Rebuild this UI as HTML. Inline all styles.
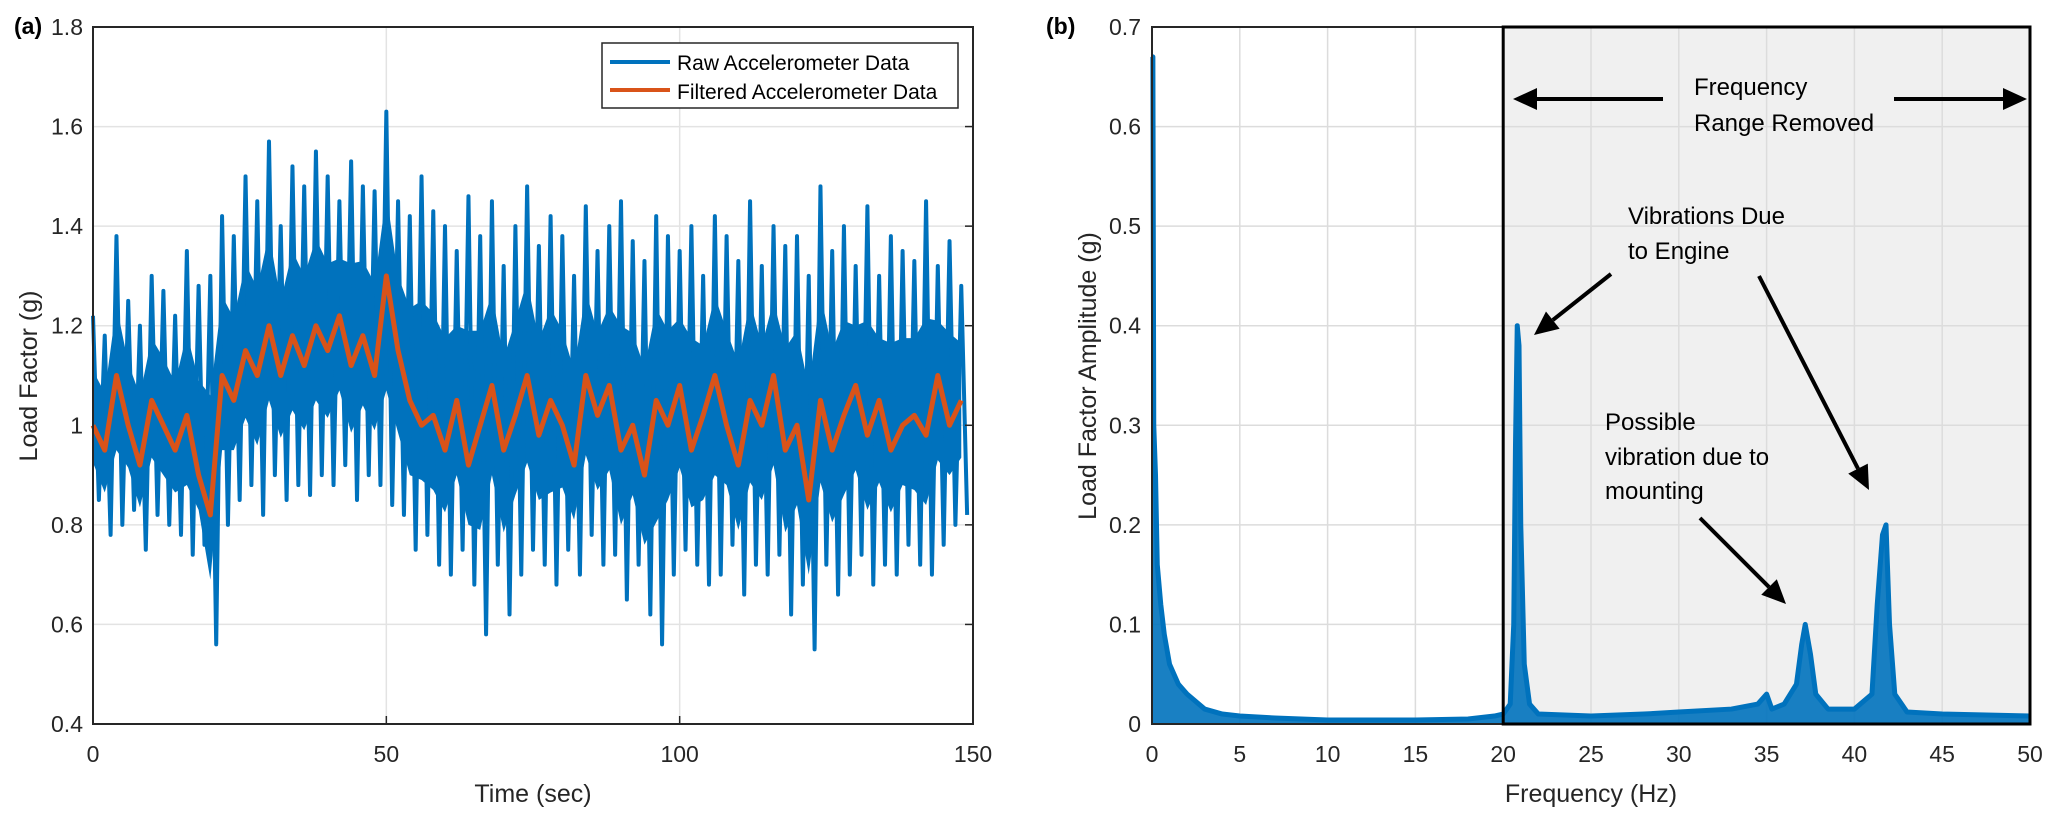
<!DOCTYPE html>
<html><head><meta charset="utf-8"><style>
html,body{margin:0;padding:0;background:#fff;}
svg{display:block;font-family:"Liberation Sans",Arial,sans-serif;}
</style></head><body>
<svg id="fig" width="2067" height="815" viewBox="0 0 2067 815">
<g id="gA"></g>
<g id="gB"></g>
</svg>
<script>
// ---- Chart (a) data ----
const timeStep = 2;
const rawHigh = [1.22,1.18,1.38,1.25,1.20,1.30,1.27,1.22,1.35,1.28,
1.30,1.42,1.38,1.50,1.45,1.57,1.40,1.52,1.48,1.55,
1.50,1.45,1.53,1.48,1.47,1.63,1.45,1.42,1.50,1.43,
1.40,1.35,1.46,1.38,1.45,1.32,1.40,1.48,1.36,1.42,
1.38,1.30,1.44,1.35,1.40,1.45,1.37,1.33,1.42,1.38,
1.35,1.40,1.30,1.42,1.38,1.33,1.45,1.32,1.40,1.36,
1.38,1.30,1.48,1.35,1.40,1.32,1.44,1.30,1.38,1.35,
1.33,1.45,1.32,1.37,1.28];
const rawLow = [0.85,0.78,0.80,0.83,0.75,0.82,0.80,0.78,0.74,0.76,
0.56,0.80,0.85,0.88,0.82,0.90,0.85,0.88,0.86,0.90,
0.88,0.92,0.85,0.90,0.88,0.84,0.82,0.75,0.78,0.72,
0.70,0.75,0.68,0.58,0.72,0.62,0.70,0.75,0.72,0.68,
0.75,0.70,0.78,0.72,0.74,0.65,0.72,0.62,0.56,0.70,
0.75,0.72,0.68,0.70,0.76,0.66,0.72,0.70,0.74,0.62,
0.68,0.55,0.72,0.66,0.70,0.74,0.68,0.72,0.70,0.76,
0.72,0.70,0.76,0.80,0.82];
const filtered = [1.00,0.95,1.10,1.00,0.92,1.05,1.00,0.95,1.02,0.90,
0.82,1.10,1.05,1.15,1.10,1.20,1.10,1.18,1.12,1.20,
1.15,1.22,1.12,1.18,1.10,1.30,1.15,1.05,1.00,1.02,
0.95,1.05,0.92,1.00,1.08,0.95,1.02,1.10,0.98,1.05,
1.00,0.92,1.10,1.02,1.08,0.95,1.00,0.90,1.05,1.00,
1.08,0.95,1.02,1.10,1.00,0.92,1.05,1.00,1.10,0.95,
1.00,0.85,1.05,0.95,1.02,1.08,0.98,1.05,0.95,1.00,
1.02,0.98,1.10,1.00,1.05];
const xTicksA = [0,50,100,150];
const yTicksA = [0.4,0.6,0.8,1,1.2,1.4,1.6,1.8];
// ---- Chart (b) data ----
const specFreq = [0,0.05,0.1,0.2,0.3,0.5,0.7,1,1.5,2,3,4,5,7,10,15,18,19.5,20,20.4,20.6,20.7,20.8,20.9,21.0,21.2,21.5,22,25,28,30,33,34.5,35,35.3,36,36.7,37,37.2,37.5,37.8,38.5,40,41,41.3,41.6,41.8,42,42.3,43,45,50];
const specAmp = [0.67,0.67,0.3,0.25,0.16,0.12,0.09,0.06,0.04,0.03,0.015,0.01,0.008,0.006,0.004,0.004,0.005,0.008,0.01,0.02,0.1,0.28,0.40,0.38,0.2,0.06,0.02,0.01,0.008,0.01,0.012,0.015,0.02,0.03,0.015,0.02,0.04,0.08,0.10,0.07,0.03,0.015,0.015,0.03,0.12,0.19,0.20,0.10,0.03,0.012,0.01,0.008];
const xTicksB = [0,5,10,15,20,25,30,35,40,45,50];
const yTicksB = [0,0.1,0.2,0.3,0.4,0.5,0.6,0.7];

const NS = "http://www.w3.org/2000/svg";
function mk(parent, tag, attrs, text){
  const e = document.createElementNS(NS, tag);
  for (const k in attrs) e.setAttribute(k, attrs[k]);
  if (text !== undefined) e.textContent = text;
  parent.appendChild(e);
  return e;
}

// ===== Chart A =====
const gA = document.getElementById('gA');
const A = {x0:93, x1:973, y0:724, y1:27};
const xA = t => A.x0 + (t-0)/150*(A.x1-A.x0);
const yA = v => A.y0 - (v-0.4)/1.4*(A.y0-A.y1);
xTicksA.forEach(t=>{
  const l = mk(gA,'line',{x1:xA(t),x2:xA(t),y1:A.y1,y2:A.y0,stroke:'#e3e3e3','stroke-width':1.5});
  
  
});
yTicksA.forEach(v=>{
  const l = mk(gA,'line',{x1:A.x0,x2:A.x1,y1:yA(v),y2:yA(v),stroke:'#e3e3e3','stroke-width':1.5});
  
  
});
// dense core band of raw data
let up = rawHigh.map((h,i)=>xA(i*timeStep)+','+yA((h+filtered[i])/2));
let dn = rawLow.map((l,i)=>xA(i*timeStep)+','+yA((l+filtered[i])/2)).reverse();
const core = mk(gA,'polygon',{points:up.concat(dn).join(' '),fill:'#0072BD'});


// raw zigzag spikes
let pts = [];
rawHigh.forEach((h,i)=>{
  const t = i*timeStep;
  pts.push(xA(t)+','+yA(h));
  pts.push(xA(t+timeStep/2)+','+yA(rawLow[i]));
});
const raw = mk(gA,'polyline',{points:pts.join(' '),fill:'none',stroke:'#0072BD','stroke-width':4,'stroke-linejoin':'round'});


let fp = filtered.map((v,i)=>xA(i*timeStep)+','+yA(v)).join(' ');
const filt = mk(gA,'polyline',{points:fp,fill:'none',stroke:'#D95319','stroke-width':5,'stroke-linejoin':'round'});


const boxA = mk(gA,'rect',{x:A.x0,y:A.y1,width:A.x1-A.x0,height:A.y0-A.y1,fill:'none',stroke:'#262626','stroke-width':2});


xTicksA.forEach(t=>{
  const e = mk(gA,'text',{x:xA(t),y:762,'text-anchor':'middle','font-size':23,fill:'#262626'},String(t));
  
  
  mk(gA,'line',{x1:xA(t),x2:xA(t),y1:A.y0,y2:A.y0-8,stroke:'#262626','stroke-width':1.5});
});
yTicksA.forEach(v=>{
  const e = mk(gA,'text',{x:83,y:yA(v)+8,'text-anchor':'end','font-size':23,fill:'#262626'},String(v));
  
  
  mk(gA,'line',{x1:A.x1,x2:A.x1-8,y1:yA(v),y2:yA(v),stroke:'#262626','stroke-width':1.5});
});
let e;
e = mk(gA,'text',{x:533,y:802,'text-anchor':'middle','font-size':25,fill:'#262626'},'Time (sec)');


e = mk(gA,'text',{x:0,y:0,'text-anchor':'middle','font-size':25,fill:'#262626',transform:'translate(37,376) rotate(-90)'},'Load Factor (g)');


e = mk(gA,'text',{x:14,y:34,'font-size':23,'font-weight':'bold',fill:'#000'},'(a)');


const leg = mk(gA,'g',{});


mk(leg,'rect',{x:602,y:43,width:356,height:65,fill:'#fff',stroke:'#262626','stroke-width':1.5});
mk(leg,'line',{x1:610,x2:670,y1:62,y2:62,stroke:'#0072BD','stroke-width':4});
mk(leg,'line',{x1:610,x2:670,y1:90,y2:90,stroke:'#D95319','stroke-width':4});
e = mk(leg,'text',{x:677,y:70,'font-size':21,fill:'#000'},'Raw Accelerometer Data');


e = mk(leg,'text',{x:677,y:99,'font-size':21,fill:'#000'},'Filtered Accelerometer Data');



// ===== Chart B =====
const gB = document.getElementById('gB');
const B = {x0:1152, x1:2030, y0:724, y1:27};
const xB = f => B.x0 + f/50*(B.x1-B.x0);
const yB = v => B.y0 - v/0.7*(B.y0-B.y1);
const shade = mk(gB,'rect',{x:xB(20),y:B.y1,width:B.x1-xB(20),height:B.y0-B.y1,fill:'#f0f0f0'});


xTicksB.forEach(f=>{
  const l = mk(gB,'line',{x1:xB(f),x2:xB(f),y1:B.y1,y2:B.y0,stroke:'#dcdcdc','stroke-width':1.5});
  
  
});
yTicksB.forEach(v=>{
  const l = mk(gB,'line',{x1:B.x0,x2:B.x1,y1:yB(v),y2:yB(v),stroke:'#dcdcdc','stroke-width':1.5});
  
  
});
let sp = specFreq.map((f,i)=>xB(f)+','+yB(specAmp[i]));
const area = mk(gB,'polygon',{points:sp.join(' ')+' '+xB(50)+','+yB(0)+' '+xB(0)+','+yB(0),fill:'#0072BD','fill-opacity':0.9});


const spec = mk(gB,'polyline',{points:sp.join(' '),fill:'none',stroke:'#0072BD','stroke-width':5,'stroke-linejoin':'round'});


const boxB = mk(gB,'rect',{x:B.x0,y:B.y1,width:B.x1-B.x0,height:B.y0-B.y1,fill:'none',stroke:'#262626','stroke-width':2});


const rem = mk(gB,'rect',{x:xB(20),y:B.y1,width:B.x1-xB(20),height:B.y0-B.y1,fill:'none',stroke:'#000','stroke-width':3});


xTicksB.forEach(f=>{
  const t = mk(gB,'text',{x:xB(f),y:762,'text-anchor':'middle','font-size':23,fill:'#262626'},String(f));
  
  
});
yTicksB.forEach(v=>{
  const t = mk(gB,'text',{x:1141,y:yB(v)+8,'text-anchor':'end','font-size':23,fill:'#262626'},String(v));
  
  
});
e = mk(gB,'text',{x:1591,y:802,'text-anchor':'middle','font-size':25,fill:'#262626'},'Frequency (Hz)');


e = mk(gB,'text',{x:0,y:0,'text-anchor':'middle','font-size':25,fill:'#262626',transform:'translate(1096,376) rotate(-90)'},'Load Factor Amplitude (g)');


e = mk(gB,'text',{x:1046,y:34,'font-size':23,'font-weight':'bold',fill:'#000'},'(b)');


function arrow(x1,y1,x2,y2,name){
  const g = mk(gB,'g',{});
  
  
  const a = Math.atan2(y2-y1,x2-x1), L=24, W=11;
  const bx = x2-L*Math.cos(a), by = y2-L*Math.sin(a);
  mk(g,'line',{x1:x1,y1:y1,x2:bx,y2:by,stroke:'#000','stroke-width':4});
  mk(g,'polygon',{points:`${x2},${y2} ${bx-W*Math.sin(a)},${by+W*Math.cos(a)} ${bx+W*Math.sin(a)},${by-W*Math.cos(a)}`,fill:'#000'});
}
arrow(1663,99,1513,99,'range-arrow-left');
arrow(1894,99,2027,99,'range-arrow-right');
arrow(1611,274,1534,335,'engine-arrow-21hz');
arrow(1759,276,1869,490,'engine-arrow-42hz');
arrow(1700,518,1786,604,'mounting-arrow');
const ann = [
 ['Frequency',1694,95,'annotation-frequency'],
 ['Range Removed',1694,131,'annotation-range-removed'],
 ['Vibrations Due',1628,224,'annotation-vibrations-due'],
 ['to Engine',1628,259,'annotation-to-engine'],
 ['Possible',1605,430,'annotation-possible'],
 ['vibration due to',1605,465,'annotation-vibration-due-to'],
 ['mounting',1605,499,'annotation-mounting']
];
ann.forEach(a=>{
  const t = mk(gB,'text',{x:a[1],y:a[2],'font-size':24,fill:'#000'},a[0]);
  
  
});
</script>
</body></html>
